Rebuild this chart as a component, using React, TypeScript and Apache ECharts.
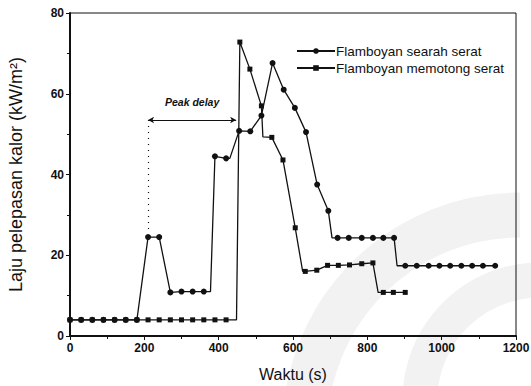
import React, { useEffect, useRef } from "react";
import * as echarts from "echarts";

// Flamboyan searah serat (circles)
const searahTime = [0, 30, 60, 90, 120, 150, 180, 210, 240, 270, 300, 330, 360, 390, 420, 455, 485, 515, 545, 575, 605, 635, 665, 695, 720, 750, 785, 815, 843, 872, 902, 933, 965, 994, 1023, 1053, 1082, 1111, 1144];
const searahValue = [4, 4, 4, 4, 4, 4, 4, 24.5, 24.5, 10.8, 11, 11, 11, 44.5, 44, 50.8, 50.7, 54.6, 67.6, 61, 56.5, 50.5, 37.5, 31, 24.3, 24.3, 24.3, 24.3, 24.3, 24.3, 17.4, 17.4, 17.4, 17.4, 17.4, 17.4, 17.4, 17.4, 17.4];
// step corners of the same curve (no marker)
const searahCornerTime = [378, 430, 705, 880];
const searahCornerValue = [11, 44, 24.3, 17.4];

// Flamboyan memotong serat (squares)
const memotongTime = [0, 30, 60, 90, 120, 150, 180, 210, 240, 270, 300, 330, 360, 390, 420, 457, 484, 515, 543, 573, 606, 633, 664, 693, 722, 752, 785, 815, 843, 870, 902];
const memotongValue = [4, 4, 4, 4, 4, 4, 4, 4, 4, 4, 4, 4, 4, 4, 4, 72.8, 66.1, 57, 49.2, 43.6, 26.8, 16, 16.3, 17.5, 17.5, 17.6, 17.9, 18.1, 10.8, 10.8, 10.8];
const memotongCornerTime = [448, 519, 626, 829];
const memotongCornerValue = [4, 49.3, 16, 10.8];

const xTicks = [0, 200, 400, 600, 800, 1000, 1200];
const yTicks = [0, 20, 40, 60, 80];

const peakDelayStart = 210;
const peakDelayEnd = 447;
const peakDelayLevel = 53.5;
const peakDelayDrop = 26;

function buildSeries(t: number[], v: number[], ct: number[], cv: number[]) {
  const pts: any[] = t.map((x, i) => ({ value: [x, v[i]] }));
  ct.forEach((x, i) => pts.push({ value: [x, cv[i]], symbol: "none" }));
  pts.sort((a, b) => a.value[0] - b.value[0]);
  return pts;
}

const FONT = "Liberation Sans, Arial, sans-serif";

export default function App() {
  const ref = useRef<HTMLDivElement>(null);
  useEffect(() => {
    if (!ref.current) return;
    document.body.style.margin = "0";
    const chart = echarts.init(ref.current, undefined, { renderer: "svg" });
    chart.setOption({
      animation: false,
      backgroundColor: "#ffffff",
      textStyle: { fontFamily: FONT },
      graphic: [
        {
          type: "arc",
          z: -10,
          silent: true,
          shape: { cx: 520, cy: 430, r: 215, startAngle: Math.PI * 1.0, endAngle: Math.PI * 1.5 },
          style: { stroke: "#f2f2f2", lineWidth: 45, fill: "none" },
        },
        {
          type: "arc",
          z: -10,
          silent: true,
          shape: { cx: 540, cy: 400, r: 120, startAngle: Math.PI * 0.95, endAngle: Math.PI * 1.55 },
          style: { stroke: "#f2f2f2", lineWidth: 35, fill: "none" },
        },
      ],
      grid: {
        left: 70,
        right: 15,
        top: 13,
        bottom: 50,
        containLabel: false,
        outerBoundsMode: "none",
        show: true,
        borderColor: "#111",
        borderWidth: 1,
      },
      legend: {
        orient: "vertical",
        left: 291,
        top: 39,
        itemGap: 3,
        itemWidth: 38,
        itemHeight: 7,
        textStyle: { fontSize: 13.5, color: "#111", fontFamily: FONT, padding: [0, 0, 0, -4] },
        data: ["Flamboyan searah serat", "Flamboyan memotong serat"],
      },
      xAxis: {
        type: "value",
        min: 0,
        max: 1200,
        interval: 200,
        name: "Waktu (s)",
        nameLocation: "middle",
        nameGap: 30,
        nameTextStyle: { fontSize: 16, color: "#111", fontFamily: FONT },
        axisLine: { lineStyle: { color: "#111", width: 2 } },
        axisTick: { length: 4, lineStyle: { color: "#111" } },
        minorTick: { show: true, splitNumber: 2, length: 3, lineStyle: { color: "#111" } },
        splitLine: { show: false },
        axisLabel: {
          fontSize: 12,
          color: "#111",
          fontWeight: "bold",
          margin: 6,
          formatter: (v: number) => (xTicks.includes(v) ? String(v) : ""),
        },
      },
      yAxis: {
        type: "value",
        min: 0,
        max: 80,
        interval: 20,
        name: "Laju pelepasan kalor (kW/m²)",
        nameLocation: "middle",
        nameGap: 45,
        nameTextStyle: { fontSize: 18, color: "#111", fontFamily: FONT },
        axisLine: { lineStyle: { color: "#111", width: 2 } },
        axisTick: { length: 4, lineStyle: { color: "#111" } },
        minorTick: { show: true, splitNumber: 2, length: 3, lineStyle: { color: "#111" } },
        splitLine: { show: false },
        axisLabel: {
          fontSize: 12,
          color: "#111",
          fontWeight: "bold",
          margin: 6,
          formatter: (v: number) => (yTicks.includes(v) ? String(v) : ""),
        },
      },
      series: [
        {
          name: "Flamboyan searah serat",
          type: "line",
          data: buildSeries(searahTime, searahValue, searahCornerTime, searahCornerValue),
          symbol: "circle",
          symbolSize: 6,
          itemStyle: { color: "#111" },
          lineStyle: { color: "#111", width: 1.3 },
          z: 3,
          markLine: {
            silent: true,
            symbol: ["none", "none"],
            label: { show: false },
            data: [
              [
                { coord: [peakDelayStart, peakDelayLevel], symbol: "arrow", symbolSize: [5, 6] },
                { coord: [peakDelayEnd, peakDelayLevel], symbol: "arrow", symbolSize: [5, 6] },
              ],
              [
                { coord: [peakDelayStart, peakDelayLevel], lineStyle: { type: [1, 5], width: 1.2 } },
                { coord: [peakDelayStart, peakDelayDrop] },
              ],
            ],
            lineStyle: { color: "#111", width: 1, type: "solid" },
          },
        },
        {
          name: "Flamboyan memotong serat",
          type: "line",
          data: buildSeries(memotongTime, memotongValue, memotongCornerTime, memotongCornerValue),
          symbol: "rect",
          symbolSize: 5,
          itemStyle: { color: "#111" },
          lineStyle: { color: "#111", width: 1.3 },
          z: 3,
          markPoint: {
            silent: true,
            symbol: "circle",
            symbolSize: 0,
            data: [
              {
                coord: [(peakDelayStart + peakDelayEnd) / 2, peakDelayLevel],
                label: {
                  show: true,
                  formatter: "Peak delay",
                  fontSize: 10.5,
                  fontStyle: "italic",
                  fontWeight: "bold",
                  color: "#111",
                  offset: [0, -18],
                },
              },
            ],
          },
        },
      ],
    });
    return () => chart.dispose();
  }, []);
  return <div ref={ref} style={{ width: 531, height: 386 }} />;
}
